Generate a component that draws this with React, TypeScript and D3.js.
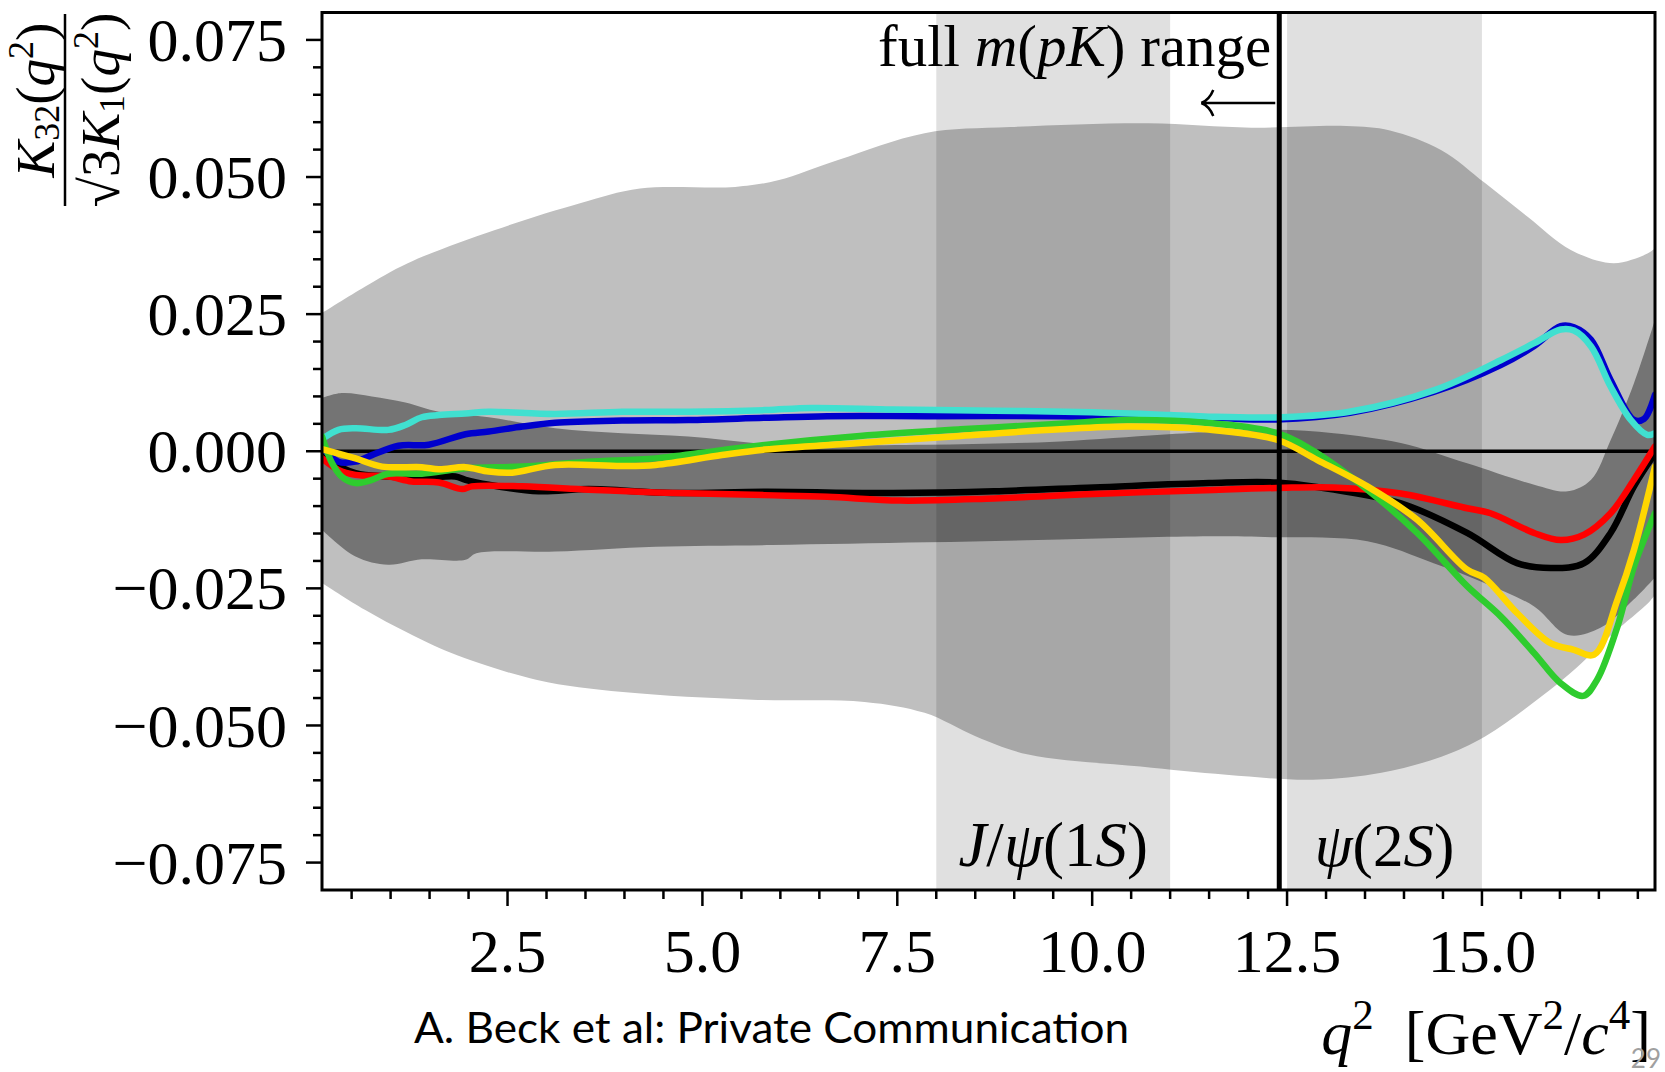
import React from "react";
import * as d3 from "d3";

// ---------- data ----------
const xDomain: [number, number] = [0.12, 17.22];
const yDomain: [number, number] = [-0.08, 0.08];

const xMajorTicks = [2.5, 5.0, 7.5, 10.0, 12.5, 15.0];
const xTickLabels = ["2.5", "5.0", "7.5", "10.0", "12.5", "15.0"];
const yMajorTicks = [0.075, 0.05, 0.025, 0, -0.025, -0.05, -0.075];
const yTickLabels = ["0.075", "0.050", "0.025", "0.000", "\u22120.025", "\u22120.050", "\u22120.075"];

const resonanceLo = [8.0, 12.5];
const resonanceHi = [11.0, 15.0];
const cutQ2 = 12.4;

// outer (light) uncertainty band
const outerUpper: [number, number][] = [
  [0.12, 0.0252], [0.67, 0.030], [1.22, 0.0343], [2.33, 0.0403], [3.43, 0.0452], [4.2, 0.0479],
  [5.42, 0.0482], [5.97, 0.0494], [6.74, 0.0531], [7.85, 0.058], [8.95, 0.0591], [10.72, 0.0598],
  [12.04, 0.059], [13.26, 0.0593], [13.82, 0.0585], [14.48, 0.0549], [15.04, 0.0489], [15.59, 0.0427],
  [16.14, 0.0367], [16.69, 0.0343], [17.13, 0.0361], [17.22, 0.037],
];
const outerLower: [number, number][] = [
  [0.12, -0.024], [0.67, -0.0289], [1.22, -0.0331], [1.78, -0.0368], [2.88, -0.0417], [3.98, -0.0439],
  [5.64, -0.0453], [7.08, -0.0457], [7.85, -0.0477], [8.51, -0.052], [9.18, -0.0553], [10.62, -0.0575],
  [11.72, -0.059], [12.83, -0.0599], [13.71, -0.0586], [14.48, -0.0557], [15.04, -0.052], [15.59, -0.0466],
  [16.14, -0.0404], [16.69, -0.0331], [17.13, -0.0277], [17.22, -0.0262],
];
// inner (dark) uncertainty band
const innerUpper: [number, number][] = [
  [0.12, 0.0097], [0.37, 0.0106], [0.76, 0.010], [1.19, 0.0089], [1.62, 0.0072], [2.26, 0.0062],
  [3.11, 0.0042], [3.97, 0.0033], [4.82, 0.0027], [5.89, 0.0013], [7.88, 0.0012], [9.59, 0.0018],
  [10.88, 0.003], [11.6, 0.0036], [12.37, 0.0039], [13.1, 0.0033], [13.96, 0.0015], [14.81, -0.0022],
  [15.67, -0.0061], [16.1, -0.0073], [16.4, -0.0052], [16.65, 0.002], [16.95, 0.0124], [17.22, 0.024],
];
const innerLower: [number, number][] = [
  [0.12, -0.0143], [0.55, -0.0192], [0.97, -0.0207], [1.40, -0.0197], [1.96, -0.0198], [2.1, -0.0186],
  [3.11, -0.0183], [4.40, -0.0174], [5.89, -0.0171], [7.88, -0.0166], [9.59, -0.0161], [11.52, -0.0155],
  [12.37, -0.0157], [13.53, -0.0164], [14.38, -0.0204], [15.03, -0.024], [15.67, -0.0283], [16.1, -0.0335],
  [16.52, -0.0322], [16.95, -0.027], [17.22, -0.023],
];

// central curves
const blackSeries: [number, number][] = [
  [0.12, -0.001], [0.55, -0.004], [0.97, -0.0046], [1.40, -0.0049], [1.83, -0.0046], [1.96, -0.0052],
  [2.26, -0.0061], [2.90, -0.0073], [3.54, -0.0069], [4.61, -0.0076], [5.8, -0.0074], [7.45, -0.0076],
  [8.74, -0.0073], [10.02, -0.0066], [11.5, -0.0058], [12.37, -0.0057], [13.1, -0.007], [13.96, -0.0095],
  [14.81, -0.0149], [15.45, -0.0204], [15.88, -0.0213], [16.31, -0.0204], [16.65, -0.0149], [16.95, -0.0064],
  [17.22, -0.0004],
];
const redSeries: [number, number][] = [
  [0.12, -0.0013], [0.33, -0.0034], [0.55, -0.0043], [0.97, -0.0046], [1.27, -0.0055], [1.62, -0.0057],
  [1.92, -0.0069], [2.04, -0.0064], [2.69, -0.0064], [3.54, -0.007], [4.40, -0.0075], [5.8, -0.008],
  [6.6, -0.0083], [7.54, -0.009], [8.74, -0.0086], [10.02, -0.0078], [11.45, -0.0071], [12.37, -0.0067],
  [13.1, -0.0066], [13.96, -0.0077], [14.81, -0.0104], [15.11, -0.0113], [15.67, -0.0149], [16.01, -0.0162],
  [16.31, -0.0152], [16.65, -0.0113], [16.95, -0.0052], [17.22, 0.0009],
];
const blueSeries: [number, number][] = [
  [0.12, 0.0008], [0.33, -0.0019], [0.55, -0.0019], [0.76, -0.0007], [1.10, 0.001], [1.49, 0.0012],
  [1.96, 0.0031], [2.26, 0.0036], [2.69, 0.0045], [3.11, 0.0052], [3.97, 0.0056], [4.82, 0.0057],
  [5.8, 0.0061], [6.6, 0.0064], [7.88, 0.0064], [9.59, 0.0064], [10.45, 0.0062], [11.5, 0.0061],
  [12.37, 0.0058], [13.31, 0.007], [14.38, 0.0108], [15.24, 0.0157], [15.67, 0.0192], [16.01, 0.0228],
  [16.18, 0.0226], [16.4, 0.0203], [16.65, 0.013], [16.95, 0.0057], [17.08, 0.0059], [17.22, 0.0103],
];
const cyanSeries: [number, number][] = [
  [0.12, 0.0022], [0.33, 0.0039], [0.55, 0.0042], [0.97, 0.0039], [1.19, 0.0048], [1.40, 0.0062],
  [1.62, 0.0066], [1.96, 0.0069], [2.26, 0.0072], [3.11, 0.0068], [3.97, 0.0072], [4.82, 0.0072],
  [5.8, 0.0075], [6.4, 0.0079], [7.45, 0.0076], [8.74, 0.0074], [10.0, 0.0071], [11.0, 0.0066],
  [11.5, 0.0063], [12.4, 0.0062], [13.3, 0.0072], [14.4, 0.0112], [15.24, 0.0166], [15.67, 0.0197],
  [16.01, 0.0222], [16.18, 0.022], [16.4, 0.0191], [16.65, 0.0118], [16.91, 0.0057], [17.12, 0.003],
  [17.22, 0.0033],
];
const greenSeries: [number, number][] = [
  [0.12, 0.0027], [0.25, -0.0022], [0.37, -0.0046], [0.55, -0.0058], [0.76, -0.0052], [0.97, -0.0041],
  [1.40, -0.0041], [1.96, -0.0031], [2.69, -0.0028], [3.54, -0.0019], [4.40, -0.0013], [5.25, 0.0002],
  [5.89, 0.0013], [7.02, 0.0028], [8.31, 0.004], [9.59, 0.005], [10.45, 0.0057], [11.45, 0.0052],
  [12.37, 0.0033], [12.89, -0.0004], [13.53, -0.007], [14.17, -0.0149], [14.81, -0.0246], [15.24, -0.0301],
  [15.67, -0.0368], [16.01, -0.0423], [16.3, -0.0446], [16.48, -0.0416], [16.74, -0.0319], [16.95, -0.021],
  [17.22, -0.0113],
];
const yellowSeries: [number, number][] = [
  [0.12, 0.0004], [0.55, -0.0013], [0.89, -0.0028], [1.40, -0.0029], [1.62, -0.0033], [1.96, -0.0029],
  [2.26, -0.0037], [2.56, -0.0039], [3.11, -0.0025], [3.97, -0.0027], [4.40, -0.0025], [5.25, -0.0007],
  [5.8, 0.0003], [7.02, 0.0015], [8.31, 0.0028], [9.59, 0.004], [10.45, 0.0045], [11.45, 0.004],
  [12.37, 0.0021], [12.89, -0.0016], [13.53, -0.0064], [14.17, -0.0125], [14.81, -0.0216], [15.03, -0.0231],
  [15.45, -0.0295], [15.88, -0.035], [16.18, -0.0362], [16.44, -0.0371], [16.74, -0.027], [16.95, -0.018],
  [17.22, -0.0028],
];

const seriesList = [blackSeries, redSeries, blueSeries, cyanSeries, greenSeries, yellowSeries];
const seriesColors = ["#000000", "#ff0000", "#0000cd", "#40e0d0", "#2ecc2e", "#ffd700"];

// ---------- layout ----------
const W = 1665;
const H = 1072;
const L = 322, R = 1655, T = 12.5, B = 890;
const SERIF = "'Liberation Serif', 'DejaVu Serif', serif";

export default function App() {
  const x = d3.scaleLinear().domain(xDomain).range([L, R]);
  const y = d3.scaleLinear().domain(yDomain).range([B, T]);

  const line = d3
    .line<[number, number]>()
    .x((d) => x(d[0]))
    .y((d) => y(d[1]))
    .curve(d3.curveCatmullRom.alpha(0.5));

  const band = (up: [number, number][], lo: [number, number][]) => {
    const a = line(up) as string;
    const b = line([...lo].reverse()) as string;
    return a + "L" + b.slice(1) + "Z";
  };

  const xMinor = d3.range(0.5, 17.01, 0.5).filter((v) => !xMajorTicks.some((m) => Math.abs(m - v) < 1e-6));
  const yMinor = d3
    .range(-0.075, 0.0751, 0.005)
    .filter((v) => !yMajorTicks.some((m) => Math.abs(m - v) < 1e-6));

  const cutX = x(cutQ2);

  return (
    <svg width={W} height={H} style={{ position: "absolute", left: 0, top: 0, background: "#fff" }}>
      <defs>
        <clipPath id="plotClip">
          <rect x={L} y={T} width={R - L} height={B - T} />
        </clipPath>
      </defs>
      <rect x={0} y={0} width={W} height={H} fill="#fff" />
      <g clipPath="url(#plotClip)">
        <path d={band(outerUpper, outerLower)} fill="#bfbfbf" />
        <path d={band(innerUpper, innerLower)} fill="#747474" />
        {resonanceLo.map((lo, i) => (
          <rect key={i} x={x(lo)} y={T} width={x(resonanceHi[i]) - x(lo)} height={B - T} fill="#000" fillOpacity={0.12} />
        ))}
        <line x1={L} x2={R} y1={y(0)} y2={y(0)} stroke="#000" strokeWidth={3.5} />
        {seriesList.map((s, i) => (
          <path key={i} d={line(s) as string} fill="none" stroke={seriesColors[i]} strokeWidth={6.5} strokeLinejoin="round" strokeLinecap="round" />
        ))}
        <line x1={cutX} x2={cutX} y1={T} y2={B} stroke="#000" strokeWidth={5} />
      </g>

      {/* frame */}
      <rect x={L} y={T} width={R - L} height={B - T} fill="none" stroke="#000" strokeWidth={3} />

      {/* y ticks */}
      {yMajorTicks.map((v, i) => (
        <g key={"ym" + i}>
          <line x1={L - 16} x2={L} y1={y(v)} y2={y(v)} stroke="#000" strokeWidth={2.5} />
          <text x={287} y={y(v)} dy="0.34em" textAnchor="end" fontFamily={SERIF} fontSize={62} fill="#000">
            {yTickLabels[i]}
          </text>
        </g>
      ))}
      {yMinor.map((v, i) => (
        <line key={"yn" + i} x1={L - 9} x2={L} y1={y(v)} y2={y(v)} stroke="#000" strokeWidth={2.5} />
      ))}

      {/* x ticks */}
      {xMajorTicks.map((v, i) => (
        <g key={"xm" + i}>
          <line x1={x(v)} x2={x(v)} y1={B} y2={B + 16} stroke="#000" strokeWidth={2.5} />
          <text x={x(v)} y={972} textAnchor="middle" fontFamily={SERIF} fontSize={62} fill="#000">
            {xTickLabels[i]}
          </text>
        </g>
      ))}
      {xMinor.map((v, i) => (
        <line key={"xn" + i} x1={x(v)} x2={x(v)} y1={B} y2={B + 9} stroke="#000" strokeWidth={2.5} />
      ))}

      {/* annotations */}
      <text x={cutX - 8} y={66} textAnchor="end" fontFamily={SERIF} fontSize={59} fill="#000">
        <tspan>full </tspan>
        <tspan fontStyle="italic">m</tspan>
        <tspan>(</tspan>
        <tspan fontStyle="italic">pK</tspan>
        <tspan>) range</tspan>
      </text>
      <path
        d={`M${cutX - 4},103 L${cutX - 78},103 M${cutX - 78},103 Q${cutX - 70},100 ${cutX - 66},90 M${cutX - 78},103 Q${cutX - 70},106 ${cutX - 66},116`}
        fill="none"
        stroke="#000"
        strokeWidth={2.5}
      />
      <text x={(x(resonanceLo[0]) + x(resonanceHi[0])) / 2} y={866} textAnchor="middle" fontFamily={SERIF} fontSize={63} fill="#000">
        <tspan fontStyle="italic">J</tspan>
        <tspan>/</tspan>
        <tspan fontStyle="italic">ψ</tspan>
        <tspan>(1</tspan>
        <tspan fontStyle="italic">S</tspan>
        <tspan>)</tspan>
      </text>
      <text x={(x(resonanceLo[1]) + x(resonanceHi[1])) / 2} y={866} textAnchor="middle" fontFamily={SERIF} fontSize={61} fill="#000">
        <tspan fontStyle="italic">ψ</tspan>
        <tspan>(2</tspan>
        <tspan fontStyle="italic">S</tspan>
        <tspan>)</tspan>
      </text>

      {/* y label */}
      <g transform="translate(0,110) rotate(-90)" fontFamily={SERIF} fill="#000">
        <text x={10} y={54} textAnchor="middle" fontSize={55}>
          <tspan fontStyle="italic">K</tspan>
          <tspan fontSize={36} dy={5}>32</tspan>
          <tspan dy={-5}>(</tspan>
          <tspan fontStyle="italic">q</tspan>
          <tspan fontSize={36} dy={-21}>2</tspan>
          <tspan dy={21}>)</tspan>
        </text>
        <line x1={-96} x2={96} y1={65} y2={65} stroke="#000" strokeWidth={2.5} />
        <text x={0} y={119} textAnchor="middle" fontSize={55}>
          <tspan>√</tspan>
          <tspan>3</tspan>
          <tspan fontStyle="italic">K</tspan>
          <tspan fontSize={36} dy={5}>1</tspan>
          <tspan dy={-5}>(</tspan>
          <tspan fontStyle="italic">q</tspan>
          <tspan fontSize={36} dy={-21}>2</tspan>
          <tspan dy={21}>)</tspan>
        </text>
      </g>

      {/* x label */}
      <text x={1651} y={1054} textAnchor="end" fontFamily={SERIF} fontSize={62} fill="#000">
        <tspan fontStyle="italic">q</tspan>
        <tspan fontSize={43} dy={-25}>2</tspan>
        <tspan dy={25}>{"\u2002[GeV"}</tspan>
        <tspan fontSize={43} dy={-25}>2</tspan>
        <tspan dy={25}>/</tspan>
        <tspan fontStyle="italic">c</tspan>
        <tspan fontSize={43} dy={-25}>4</tspan>
        <tspan dy={25}>]</tspan>
      </text>

      <text x={414} y={1043} fontFamily="Lato, 'Open Sans', sans-serif" fontSize={42} fill="#000" textLength={715} lengthAdjust="spacingAndGlyphs">
        A. Beck et al: Private Communication
      </text>
      <text x={1661} y={1068} textAnchor="end" fontFamily="Lato, sans-serif" fontSize={26} fill="#a0a0a0">
        29
      </text>
    </svg>
  );
}
